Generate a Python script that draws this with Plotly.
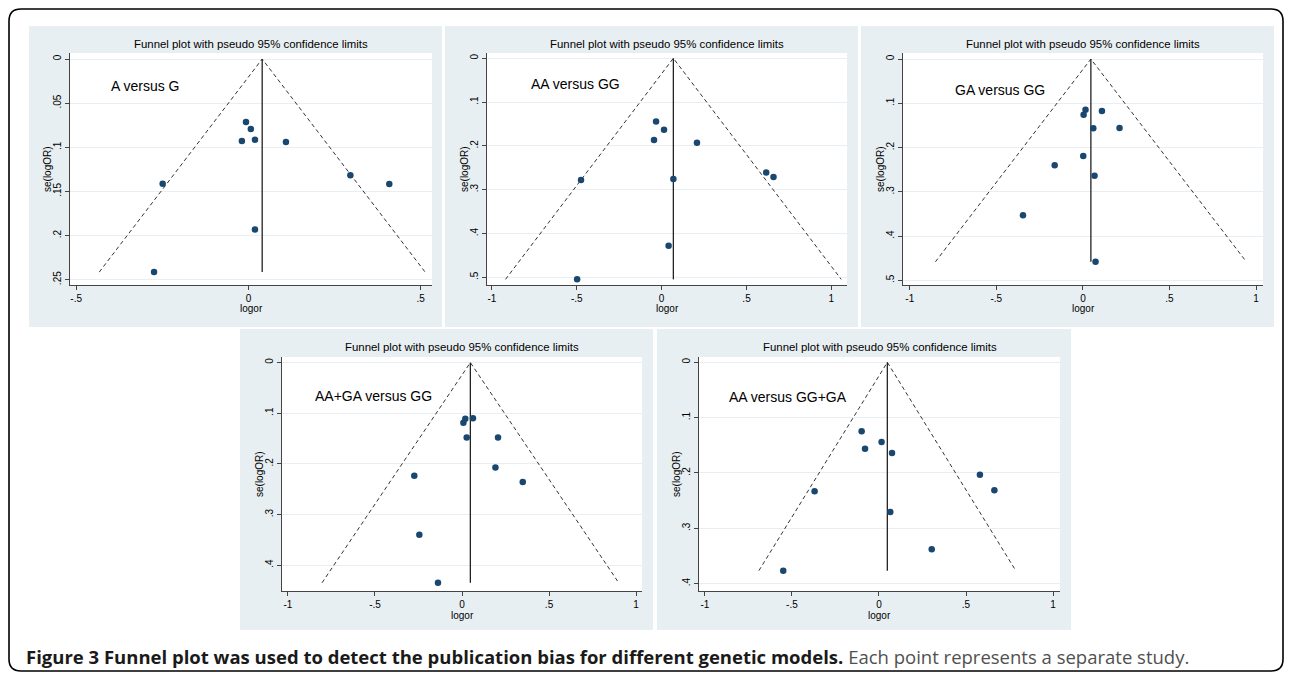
import plotly.graph_objects as go

W, H = 1292, 673

# ---------------- data ----------------
labels = ["A versus G", "AA versus GG", "GA versus GG", "AA+GA versus GG", "AA versus GG+GA"]

logor_1 = [-0.007, 0.007, -0.019, 0.019, 0.109, 0.296, 0.409, -0.249, 0.019, -0.274]
se_1 = [0.0714, 0.0793, 0.093, 0.0914, 0.094, 0.1316, 0.1417, 0.1414, 0.193, 0.2414]

logor_2 = [-0.033, 0.014, -0.045, 0.208, -0.475, 0.069, 0.616, 0.659, 0.041, -0.498]
se_2 = [0.1446, 0.163, 0.1865, 0.193, 0.278, 0.2755, 0.261, 0.271, 0.4277, 0.5046]

logor_3 = [0.015, 0.004, 0.110, 0.060, 0.2115, 0.002, -0.163, 0.067, -0.346, 0.073]
se_3 = [0.1145, 0.1258, 0.1175, 0.1566, 0.1559, 0.219, 0.240, 0.2636, 0.353, 0.458]

logor_4 = [0.019, 0.063, 0.008, 0.027, 0.207, 0.192, 0.349, -0.274, -0.245, -0.138]
se_4 = [0.1108, 0.110, 0.1187, 0.148, 0.148, 0.207, 0.236, 0.2236, 0.340, 0.4348]

logor_5 = [-0.0996, -0.080, 0.015, 0.075, 0.580, 0.663, -0.370, 0.065, 0.303, -0.550]
se_5 = [0.1247, 0.156, 0.144, 0.1639, 0.203, 0.231, 0.233, 0.2705, 0.338, 0.3765]

pooled = [0.040, 0.069, 0.046, 0.048, 0.048]

xtick_1 = [-0.5, 0, 0.5]
xtick_1_text = ["-.5", "0", ".5"]
xtick_n = [-1, -0.5, 0, 0.5, 1]
xtick_n_text = ["-1", "-.5", "0", ".5", "1"]
ytick_1 = [0, 0.05, 0.1, 0.15, 0.2, 0.25]
ytick_1_text = ["0", ".05", ".1", ".15", ".2", ".25"]
ytick_5 = [0, 0.1, 0.2, 0.3, 0.4, 0.5]
ytick_5_text = ["0", ".1", ".2", ".3", ".4", ".5"]
ytick_4 = [0, 0.1, 0.2, 0.3, 0.4]
ytick_4_text = ["0", ".1", ".2", ".3", ".4"]

plot_title = "Funnel plot with pseudo 95% confidence limits"
caption_bold = "Figure 3 Funnel plot was used to detect the publication bias for different genetic models."
caption_rest = "Each point represents a separate study."

# ---------------- layout (pixels) ----------------
panels = [
    dict(bg=(29, 26, 442, 327), plot=(70, 53, 432, 285), xr=[-0.518, 0.533], yr=[0.256, -0.0068],
         xt=(xtick_1, xtick_1_text), yt=(ytick_1, ytick_1_text), ann=(-0.405, 0.031),
         x=logor_1, y=se_1),
    dict(bg=(445, 26, 858, 327), plot=(487, 53, 847, 285), xr=[-1.029, 1.092], yr=[0.5175, -0.012],
         xt=(xtick_n, xtick_n_text), yt=(ytick_5, ytick_5_text), ann=(-0.784, 0.0586),
         x=logor_2, y=se_2),
    dict(bg=(861, 26, 1274, 327), plot=(903, 53, 1263, 285), xr=[-1.039, 1.040], yr=[0.5105, -0.0136],
         xt=(xtick_n, xtick_n_text), yt=(ytick_5, ytick_5_text), ann=(-0.75, 0.069),
         x=logor_3, y=se_3),
    dict(bg=(240, 329, 653, 630), plot=(282, 357, 642, 591), xr=[-1.034, 1.034], yr=[0.451, -0.011],
         xt=(xtick_n, xtick_n_text), yt=(ytick_4, ytick_4_text), ann=(-0.856, 0.066),
         x=logor_4, y=se_4),
    dict(bg=(657, 329, 1071, 630), plot=(699, 357, 1060, 591), xr=[-1.034, 1.040], yr=[0.4133, -0.0096],
         xt=(xtick_n, xtick_n_text), yt=(ytick_4, ytick_4_text), ann=(-0.875, 0.063),
         x=logor_5, y=se_5),
]

def fx(px):
    return px / W

def fy(py):
    return 1 - py / H

PANEL_BG = "#e8eff2"
NAVY = "#1a476f"
AXC = "#444444"
FONT = "Arial, Liberation Sans, sans-serif"

fig = go.Figure()
shapes = []
annotations = []
layout_axes = {}

for i, p in enumerate(panels):
    n = i + 1
    xa = "x" if n == 1 else f"x{n}"
    ya = "y" if n == 1 else f"y{n}"
    x0, y0, x1, y1 = p["plot"]
    bx0, by0, bx1, by1 = p["bg"]

    shapes.append(dict(type="rect", xref="paper", yref="paper", layer="below",
                       x0=fx(bx0), x1=fx(bx1), y0=fy(by1), y1=fy(by0),
                       fillcolor=PANEL_BG, line=dict(width=0)))
    shapes.append(dict(type="rect", xref="paper", yref="paper", layer="below",
                       x0=fx(x0), x1=fx(x1), y0=fy(y1), y1=fy(y0),
                       fillcolor="white", line=dict(width=0)))

    c = pooled[i]
    smax = max(p["y"])
    # pseudo 95% confidence limits
    fig.add_trace(go.Scatter(x=[c - 1.96 * smax, c, c + 1.96 * smax], y=[smax, 0, smax],
                             mode="lines", line=dict(color="#333333", width=1, dash="4px,3px"),
                             xaxis=xa, yaxis=ya, showlegend=False, hoverinfo="skip"))
    fig.add_trace(go.Scatter(x=[c, c], y=[0, smax], mode="lines",
                             line=dict(color="#222222", width=1.3),
                             xaxis=xa, yaxis=ya, showlegend=False, hoverinfo="skip"))
    fig.add_trace(go.Scatter(x=p["x"], y=p["y"], mode="markers",
                             marker=dict(color=NAVY, size=6.5),
                             xaxis=xa, yaxis=ya, showlegend=False))

    xkey = "xaxis" if n == 1 else f"xaxis{n}"
    ykey = "yaxis" if n == 1 else f"yaxis{n}"
    layout_axes[xkey] = dict(domain=[fx(x0), fx(x1)], anchor=ya, range=p["xr"],
                             tickmode="array", tickvals=p["xt"][0], ticktext=p["xt"][1],
                             ticks="outside", ticklen=4, tickcolor=AXC, tickwidth=1,
                             showline=True, linecolor=AXC, linewidth=1,
                             showgrid=False, zeroline=False,
                             tickfont=dict(size=10, color="black", family=FONT))
    layout_axes[ykey] = dict(domain=[fy(y1), fy(y0)], anchor=xa, range=p["yr"],
                             tickmode="array", tickvals=p["yt"][0], ticktext=p["yt"][1],
                             tickangle=-90,
                             ticks="outside", ticklen=4, tickcolor=AXC, tickwidth=1,
                             showline=True, linecolor=AXC, linewidth=1,
                             showgrid=True, gridcolor=PANEL_BG, gridwidth=1, zeroline=False,
                             tickfont=dict(size=10, color="black", family=FONT))

    # panel title
    annotations.append(dict(text=plot_title, xref="paper", yref="paper",
                            x=fx((x0 + x1) / 2), y=fy(by0 + 18), xanchor="center", yanchor="middle",
                            showarrow=False, font=dict(size=11.4, color="black", family=FONT)))
    # axis titles
    annotations.append(dict(text="logor", xref="paper", yref="paper",
                            x=fx((x0 + x1) / 2), y=fy(y1 + 24), xanchor="center", yanchor="middle",
                            showarrow=False, font=dict(size=10, color="black", family=FONT)))
    annotations.append(dict(text="se(logOR)", xref="paper", yref="paper", textangle=-90,
                            x=fx(x0 - 23), y=fy((y0 + y1) / 2), xanchor="center", yanchor="middle",
                            showarrow=False, font=dict(size=10, color="black", family=FONT)))
    # model label
    annotations.append(dict(text=labels[i], xref=xa, yref=ya, x=p["ann"][0], y=p["ann"][1],
                            xanchor="left", yanchor="middle", showarrow=False,
                            font=dict(size=14, color="black", family=FONT)))

# caption
annotations.append(dict(
    text=f"<b>{caption_bold}</b> <span style='color:#505050'>{caption_rest}</span>",
    xref="paper", yref="paper", x=fx(24), y=fy(656), xanchor="left", yanchor="middle",
    showarrow=False, font=dict(size=18.5, color="#1a1a1a", family="Open Sans, sans-serif")))

# outer rounded border
L, T, R, B, r = 9, 9, 1283, 671, 12
path = (f"M {fx(L + r)},{fy(T)} L {fx(R - r)},{fy(T)} "
        f"Q {fx(R)},{fy(T)} {fx(R)},{fy(T + r)} L {fx(R)},{fy(B - r)} "
        f"Q {fx(R)},{fy(B)} {fx(R - r)},{fy(B)} L {fx(L + r)},{fy(B)} "
        f"Q {fx(L)},{fy(B)} {fx(L)},{fy(B - r)} L {fx(L)},{fy(T + r)} "
        f"Q {fx(L)},{fy(T)} {fx(L + r)},{fy(T)} Z")
shapes.append(dict(type="path", path=path, xref="paper", yref="paper", layer="above",
                   line=dict(color="black", width=1.6), fillcolor="rgba(0,0,0,0)"))

fig.update_layout(width=W, height=H, margin=dict(l=0, r=0, t=0, b=0),
                  paper_bgcolor="white", plot_bgcolor="rgba(0,0,0,0)",
                  shapes=shapes, annotations=annotations, showlegend=False,
                  **layout_axes)

fig.write_html("out.html", config={"displayModeBar": False},
               post_script="document.body.style.margin='0';")
